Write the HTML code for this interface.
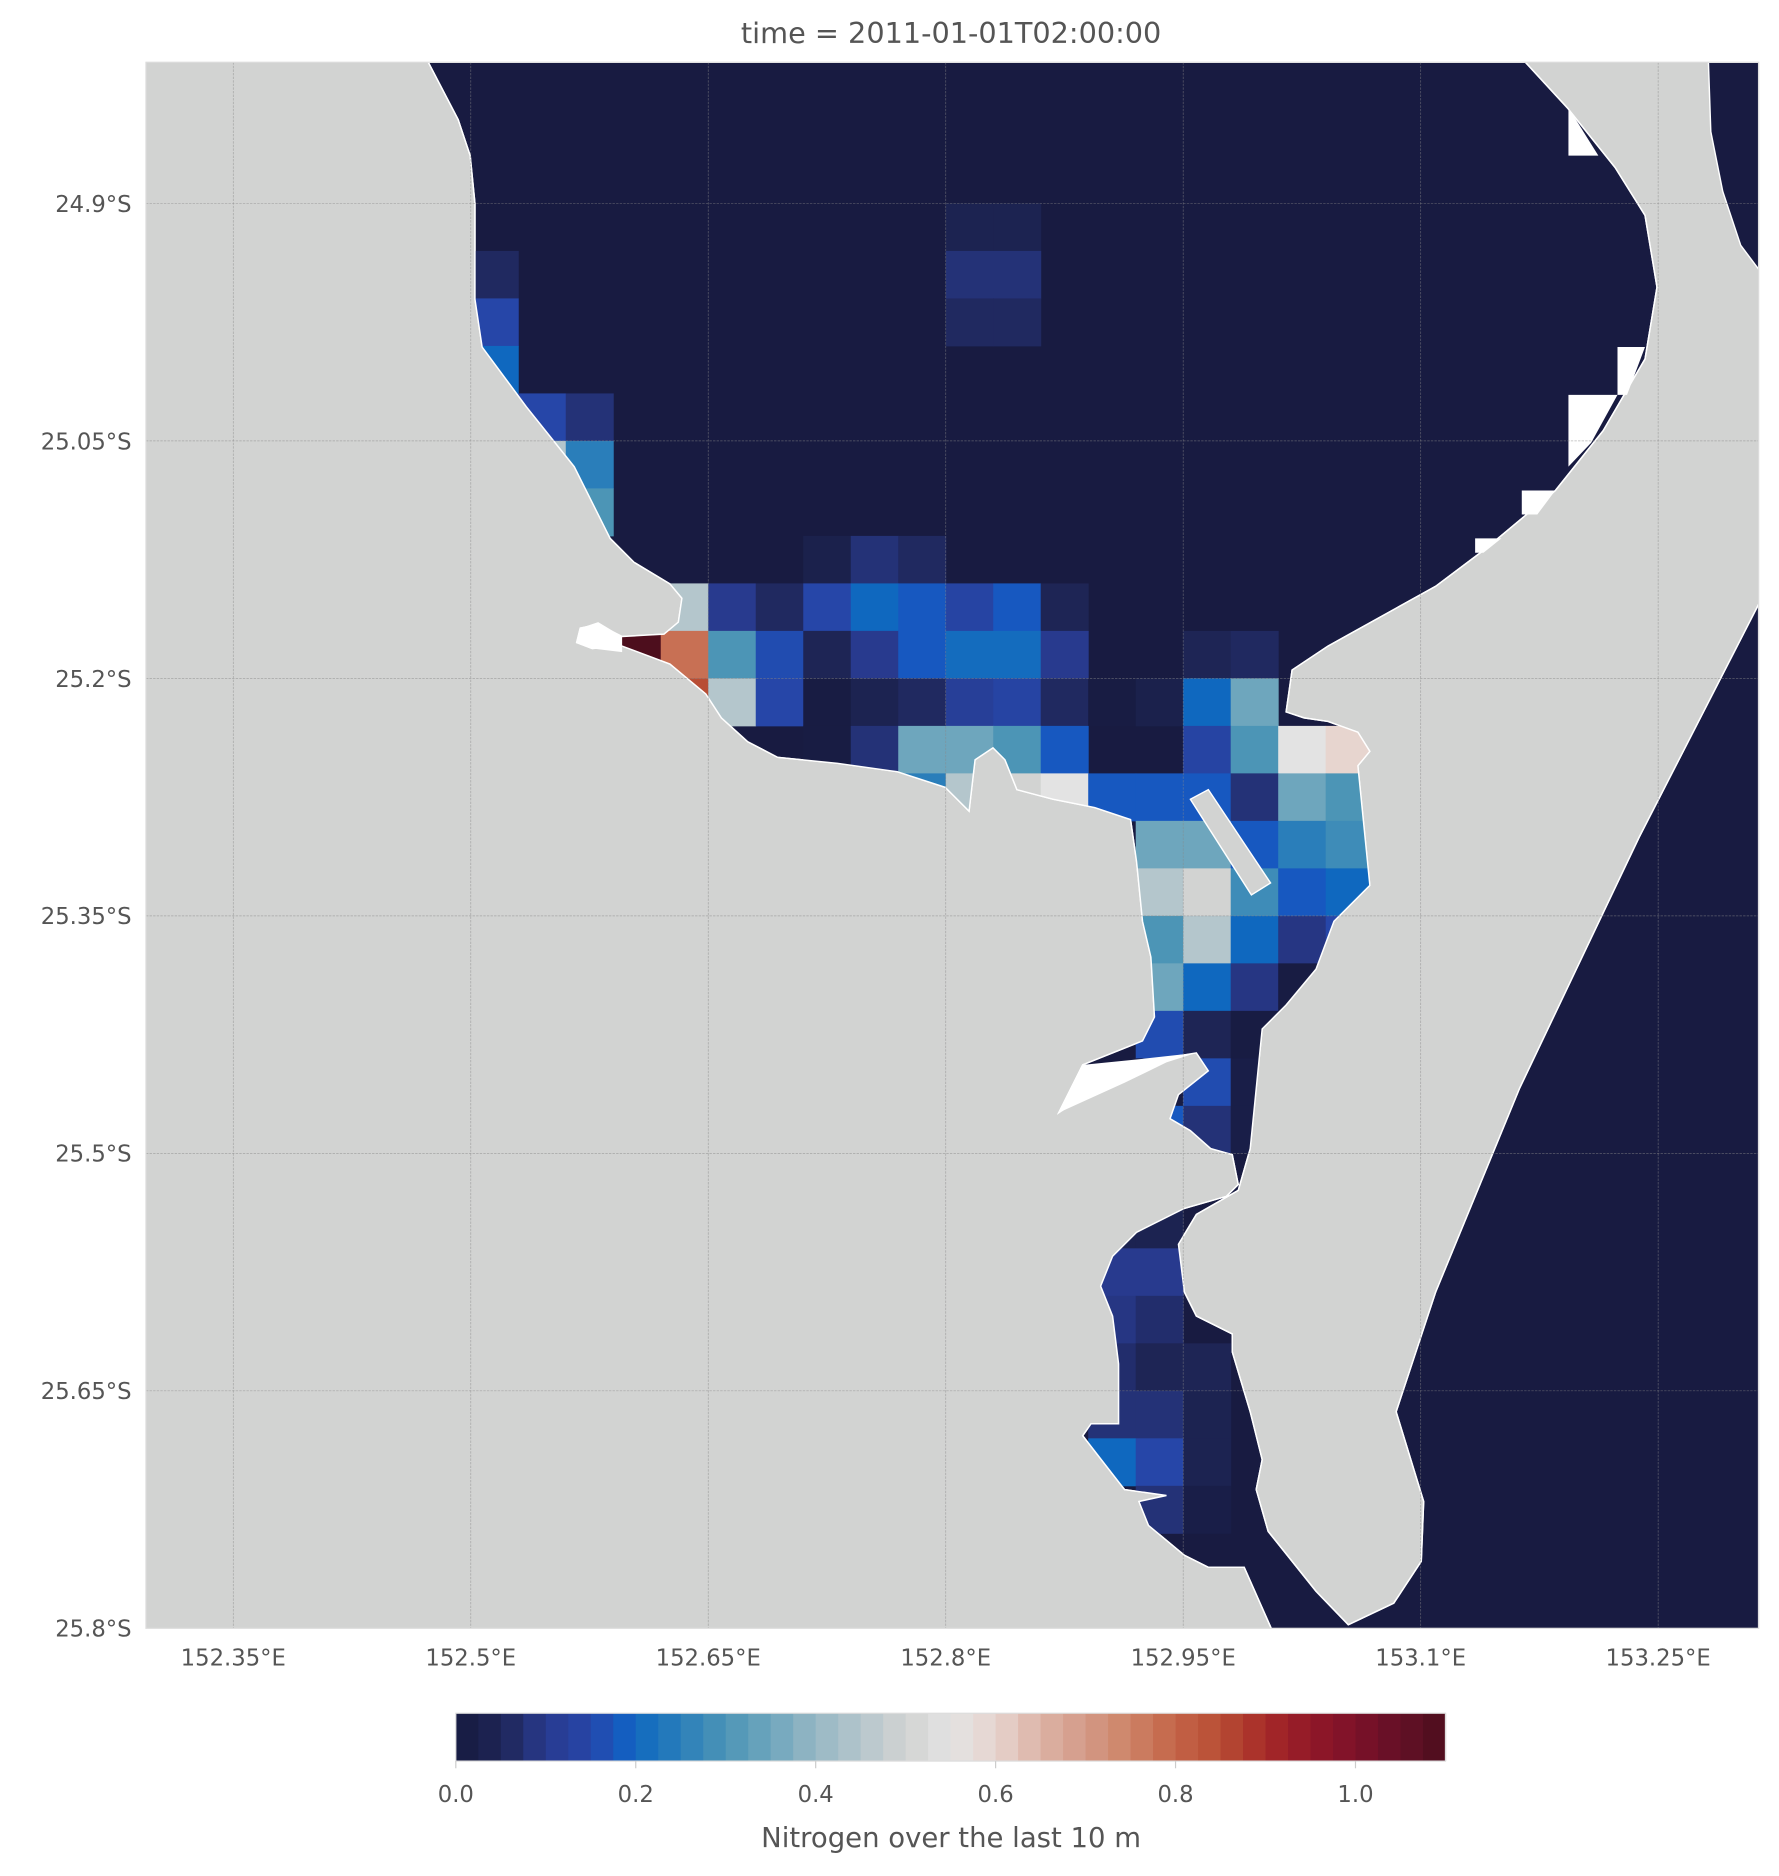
<!DOCTYPE html>
<html><head><meta charset="utf-8"><style>
html,body{margin:0;padding:0;background:#fff;}
svg{display:block;}
text{font-family:"DejaVu Sans","Liberation Sans",sans-serif;fill:#555;}
</style></head><body>
<svg id="fig" width="1779" height="1876" viewBox="0 0 1487 1568" xmlns="http://www.w3.org/2000/svg">
<defs>
<clipPath id="plotclip"><rect x="122" y="52" width="1348" height="1309"/></clipPath>
<clipPath id="waterclip"><path id="waterclipPath"/></clipPath>
</defs>
<text x="795" y="36" text-anchor="middle" font-size="24">time = 2011-01-01T02:00:00</text>
<g clip-path="url(#plotclip)">
<rect x="122" y="52" width="1348" height="1309" fill="#d2d3d2"/>
<g id="waterg"></g>
<g id="cellsg" clip-path="url(#waterclip)"></g>
<g id="overlayg"></g>
<g id="gridg"></g>
</g>
<rect x="122" y="52" width="1348" height="1309" fill="none" stroke="#ddd" stroke-width="1"/>
<g id="axesg"></g>
<g id="cbarg"></g>
</svg>
<script>
// ---- data ----
const lonTicks = [152.35,152.5,152.65,152.8,152.95,153.1,153.25];
const lonTickLabels = ["152.35°E","152.5°E","152.65°E","152.8°E","152.95°E","153.1°E","153.25°E"];
const latTicks = [24.9,25.05,25.2,25.35,25.5,25.65,25.8];
const latTickLabels = ["24.9°S","25.05°S","25.2°S","25.35°S","25.5°S","25.65°S","25.8°S"];
const cbTicks = [0,0.2,0.4,0.6,0.8,1.0];
const cbTickLabels = ["0.0","0.2","0.4","0.6","0.8","1.0"];
const cellCol = [10,11,10,11,10,11,0,0,0,1,2,1,2,2,
 7,8,9, 4,5,6,7,8,9,10,11,12,
 3,4,5,6,7,8,9,10,11,12,15,16,
 4,5,6,7,8,9,10,11,12,13,14,15,16,
 7,8,9,10,11,12,15,16,17,18,
 9,10,11,12,13,14,15,16,17,18,
 14,15,16,17,18, 14,15,16,17,18, 14,15,16,17,18, 14,15,16,17, 14,15,16, 14,15,16, 14,15,16,
 13,14, 13,14, 13,14, 13,14,15, 13,14,15, 13,14,15, 14,15];
const cellRow = [0,0,1,1,2,2,1,2,3,4,4,5,5,6,
 7,7,7, 8,8,8,8,8,8,8,8,8,
 9,9,9,9,9,9,9,9,9,9,9,9,
 10,10,10,10,10,10,10,10,10,10,10,10,10,
 11,11,11,11,11,11,11,11,11,11,
 12,12,12,12,12,12,12,12,12,12,
 13,13,13,13,13, 14,14,14,14,14, 15,15,15,15,15, 16,16,16,16, 17,17,17, 18,18,18, 19,19,19,
 21,21, 22,22, 23,23, 24,24,24, 25,25,25, 26,26,26, 27,27];
const cellVal = [0.04,0.04,0.08,0.08,0.06,0.06,0.06,0.15,0.2,0.15,0.08,0.45,0.25,0.3,
 0.03,0.08,0.06, 0.45,0.1,0.06,0.15,0.2,0.18,0.14,0.18,0.05,
 1.1,0.78,0.3,0.16,0.05,0.1,0.18,0.21,0.21,0.1,0.05,0.06,
 0.85,0.45,0.15,0.01,0.04,0.06,0.12,0.14,0.06,0.01,0.03,0.2,0.35,
 0.01,0.08,0.35,0.35,0.3,0.18,0.14,0.3,0.55,0.6,
 0.25,0.45,0.5,0.55,0.18,0.18,0.18,0.08,0.35,0.3,
 0.35,0.35,0.18,0.25,0.28, 0.45,0.5,0.28,0.18,0.2, 0.3,0.45,0.2,0.09,0.15, 0.35,0.2,0.09,0.01, 0.16,0.05,0.01, 0.01,0.16,0.02, 0.18,0.08,0.02,
 0.04,0.04, 0.1,0.1, 0.09,0.07, 0.07,0.05,0.05, 0.08,0.08,0.04, 0.2,0.15,0.04, 0.08,0.02];
const cmapVals = [0,0.05,0.1,0.15,0.18,0.2,0.25,0.3,0.35,0.4,0.45,0.5,0.55,0.6,0.65,0.7,0.75,0.8,0.85,0.9,0.95,1.0,1.05,1.1];
const cmapCols = ["#161a3f","#1e2555","#283a8e","#2646a8","#1758c0","#0f68bf","#2a7eba","#4c95b6","#6ea6bd","#97b7c4","#b4c6cc","#d2d3d2","#e3e3e3","#e7d5cf","#dcb3a6","#d49a87","#cd8366","#c46448","#b84d34","#a62a28","#911728","#7d1229","#631026","#4d0e1d"];

// ---- axes functions (display coords) ----
const lonX = lon => 195 + (lon-152.35)/0.15*198.5;
const latY = lat => 170 + (lat-24.9)/0.15*198.5;
const cbX = v => 381 + v*752;
const NS="http://www.w3.org/2000/svg";
function hex(h){return [1,3,5].map(i=>parseInt(h.substr(i,2),16));}
function cmap(v){
  v=Math.max(0,Math.min(1.1,v));
  for(let i=0;i<cmapVals.length-1;i++){
    if(v<=cmapVals[i+1]){const t=(v-cmapVals[i])/(cmapVals[i+1]-cmapVals[i]);const a=hex(cmapCols[i]),b=hex(cmapCols[i+1]);
      return "rgb("+a.map((x,k)=>Math.round(x+(b[k]-x)*t)).join(",")+")";}
  }
  return cmapCols[cmapCols.length-1];
}
function mk(tag,attrs,parent){const e=document.createElementNS(NS,tag);for(const k in attrs)e.setAttribute(k,attrs[k]);parent.appendChild(e);return e;}

// ---- water ----
const waterPts = "358,52 383,100 393,130 397,170 397,250 403,290 440,340 480,390 510,450 530,470 560,488 570,500 567,520 555,530 520,532 500,522 485,525 482,537 495,542 520,540 560,555 590,580 603,600 625,620 650,633 700,638 750,645 790,658 810,678 815,635 830,625 840,635 850,660 880,668 915,675 945,685 950,720 955,770 962,800 965,850 955,870 905,890 885,930 900,920 940,900 970,885 1000,880 1010,895 985,915 978,935 995,945 1012,960 1030,965 1035,990 1025,1000 990,1010 950,1030 930,1050 920,1075 930,1100 935,1140 935,1190 912,1190 905,1200 940,1245 975,1250 952,1255 960,1275 990,1300 1010,1310 1040,1310 1063,1362 1470,1362 1470,505 1370,700 1270,910 1200,1080 1167,1180 1190,1255 1188,1305 1165,1340 1127,1358 1100,1330 1060,1280 1050,1245 1055,1220 1045,1180 1030,1130 1030,1115 1000,1100 990,1080 985,1040 1000,1015 1035,995 1045,960 1050,910 1055,860 1075,840 1100,810 1115,770 1145,740 1135,640 1145,628 1135,612 1110,603 1090,600 1075,595 1080,560 1110,540 1200,490 1240,460 1300,410 1340,360 1375,300 1385,240 1375,180 1350,140 1310,90 1275,52";
const water2 = "1428,52 1470,52 1470,225 1455,205 1440,160 1430,110";
const wg=document.getElementById('waterg');
let w=mk('polygon',{points:waterPts,fill:"#181b41",stroke:"#fff","stroke-width":1.2},wg);


let w2=mk('polygon',{points:water2,fill:"#181b41",stroke:"#fff","stroke-width":1.2},wg);


const cp=document.getElementById('waterclip');
cp.innerHTML='';
mk('polygon',{points:waterPts},cp);

// ---- cells ----
const cg=document.getElementById('cellsg');
const step=0.15/5;
for(let i=0;i<cellVal.length;i++){
  const lon0=152.5+cellCol[i]*step, lat0=24.9+cellRow[i]*step;
  const x0=lonX(lon0), x1=lonX(lon0+step), y0=latY(lat0), y1=latY(lat0+step);
  const r=mk('rect',{x:x0,y:y0,width:x1-x0+0.4,height:y1-y0+0.4,fill:cmap(cellVal[i])},cg);
  
  
}

// ---- overlays: white no-data, island ----
const og=document.getElementById('overlayg');
const whites=["485,525 500,520 520,532 520,545 495,542 482,537","905,890 955,885 1000,880 975,888 940,905 885,930",
 "1311,90 1336,130 1311,130","1352,290 1375,290 1360,330 1352,330","1311,330 1352,330 1330,370 1311,390",
 "1272,410 1300,410 1285,430 1272,430","1233,450 1255,450 1240,462 1233,462"];
whites.forEach(p=>{const e=mk('polygon',{points:p,fill:"#fff"},og);
  
  });
const isl=mk('polygon',{points:"995,668 1010,660 1062,738 1046,748",fill:"#d2d3d2",stroke:"#fff","stroke-width":1.2},og);


const wo=mk('polygon',{points:waterPts,fill:"none",stroke:"#fff","stroke-width":1.2},og);



// ---- grid & ticks ----
const gg=document.getElementById('gridg'), ag=document.getElementById('axesg');
lonTicks.forEach((v,i)=>{const x=lonX(v);
  const l=mk('line',{x1:x,x2:x,y1:52,y2:1361,stroke:"#888","stroke-width":0.6,"stroke-dasharray":"2,1","stroke-opacity":0.6},gg);
  
  
  const t=mk('text',{x:x,y:1392,"text-anchor":"middle","font-size":19},ag);t.textContent=lonTickLabels[i];
  
  });
latTicks.forEach((v,i)=>{const y=latY(v);
  const l=mk('line',{x1:122,x2:1470,y1:y,y2:y,stroke:"#888","stroke-width":0.6,"stroke-dasharray":"2,1","stroke-opacity":0.6},gg);
  
  
  const t=mk('text',{x:110,y:y+7,"text-anchor":"end","font-size":19},ag);t.textContent=latTickLabels[i];
  
  });

// ---- colorbar ----
const cb=document.getElementById('cbarg');
const nb=44;
for(let k=0;k<nb;k++){const v0=k*1.1/nb,v1=(k+1)*1.1/nb;
  const r=mk('rect',{x:cbX(v0),y:1432,width:cbX(v1)-cbX(v0)+0.5,height:40,fill:cmap((v0+v1)/2)},cb);
  
  }
const fr=mk('rect',{x:cbX(0),y:1432,width:cbX(1.1)-cbX(0),height:40,fill:"none",stroke:"#ddd","stroke-width":1},cb);


cbTicks.forEach((v,i)=>{const x=cbX(v);
  const l=mk('line',{x1:x,x2:x,y1:1472,y2:1478,stroke:"#ccc","stroke-width":1},cb);
  
  
  const t=mk('text',{x:x,y:1506,"text-anchor":"middle","font-size":19},cb);t.textContent=cbTickLabels[i];
  
  });
const ct=mk('text',{x:795,y:1544,"text-anchor":"middle","font-size":23},cb);ct.textContent="Nitrogen over the last 10 m";


</script>
</body></html>
